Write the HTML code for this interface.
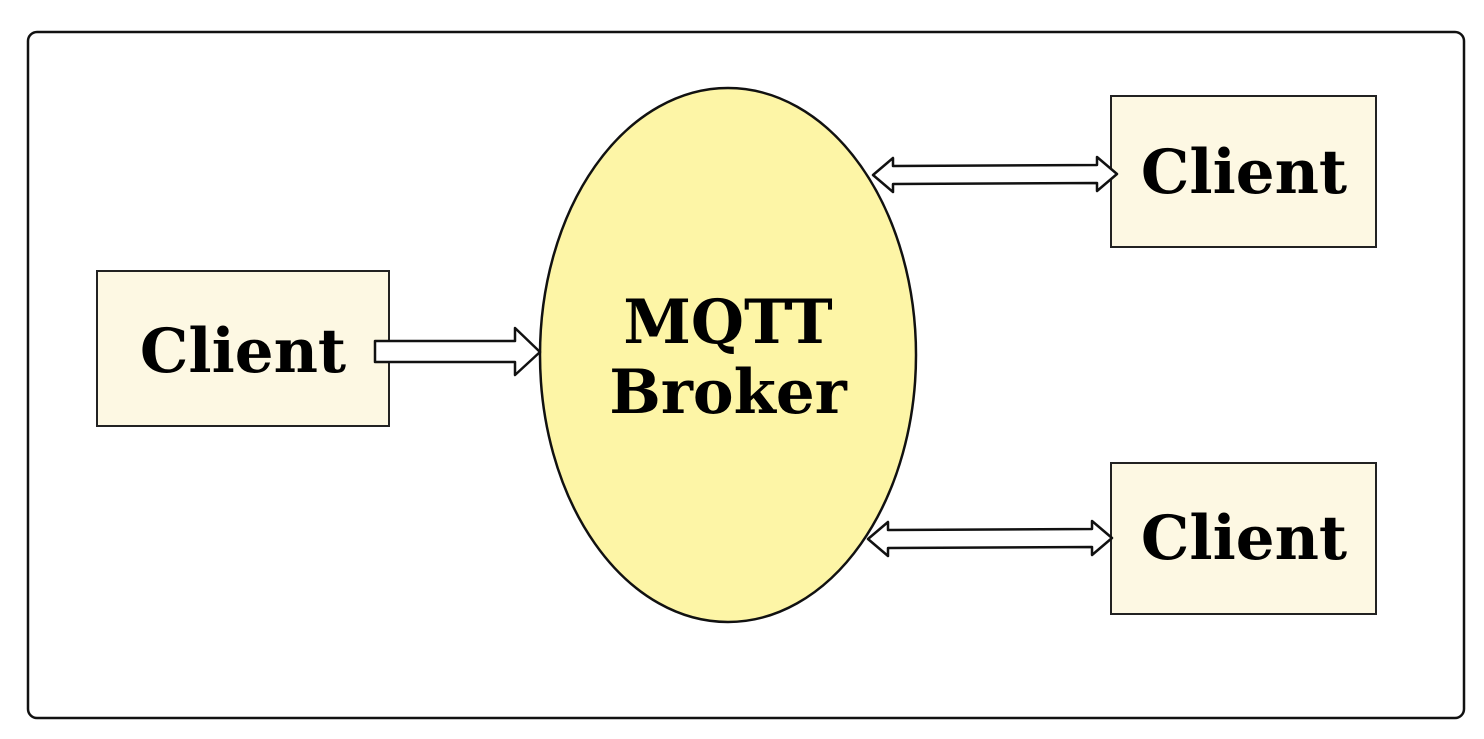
<!DOCTYPE html>
<html><head><style>
html,body{margin:0;padding:0;background:#fff;}
svg{display:block}
text{font-family:"DejaVu Serif","Liberation Serif",serif;font-weight:bold;font-size:61px;fill:#000;text-anchor:middle}
</style></head><body>
<svg width="1484" height="739" viewBox="0 0 1484 739">
<rect x="28" y="32" width="1436" height="686" rx="9" fill="#fff" stroke="#111" stroke-width="2.5"/>
<ellipse cx="728" cy="355" rx="188" ry="267" fill="#fdf5a6" stroke="#111" stroke-width="2.5"/>
<rect x="97" y="271" width="292" height="155" fill="#fdf8e3" stroke="#222" stroke-width="2"/>
<rect x="1111" y="96" width="265" height="151" fill="#fdf8e3" stroke="#222" stroke-width="2"/>
<rect x="1111" y="463" width="265" height="151" fill="#fdf8e3" stroke="#222" stroke-width="2"/>
<path d="M375 341 L515 341 L515 328 L540 352 L515 375 L515 362 L375 362 Z" fill="#fff" stroke="#111" stroke-width="2.5" stroke-linejoin="round"/>
<path d="M873 175 L893 158 L893 166 L1097 165 L1097 157 L1117 174 L1097 191 L1097 183 L893 184 L893 192 Z" fill="#fff" stroke="#111" stroke-width="2.5" stroke-linejoin="round"/>
<path d="M868 539 L888 522 L888 530 L1092 529 L1092 521 L1112 538 L1092 555 L1092 547 L888 548 L888 556 Z" fill="#fff" stroke="#111" stroke-width="2.5" stroke-linejoin="round"/>
<text x="243" y="372">Client</text>
<text x="1244" y="193">Client</text>
<text x="1244" y="559">Client</text>
<text x="728" y="343">MQTT</text>
<text x="728" y="413">Broker</text>
</svg>
</body></html>
